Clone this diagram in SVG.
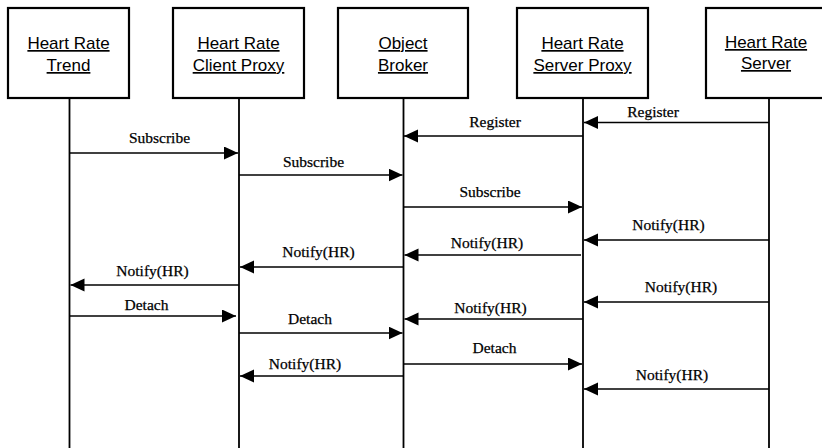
<svg xmlns="http://www.w3.org/2000/svg" width="822" height="448" viewBox="0 0 822 448">
<style>
.box{fill:#fff;stroke:#000;stroke-width:2.2}
.life{stroke:#000;stroke-width:1.8;fill:none}
.msg{stroke:#000;stroke-width:1.6;fill:none;marker-end:url(#ah)}
.hd{font-family:"Liberation Sans",Arial,sans-serif;font-size:17px;text-anchor:middle;fill:#000;text-decoration:underline}
.lb{font-family:"Liberation Serif","Times New Roman",serif;font-size:15.5px;text-anchor:middle;fill:#000;stroke:#000;stroke-width:0.25}
</style>
<defs>
<marker id="ah" markerUnits="userSpaceOnUse" markerWidth="16" markerHeight="14" refX="14" refY="6.5" orient="auto">
<path d="M0,0 L14,6.5 L0,13 Z" fill="#000"/>
</marker>
</defs>
<rect width="822" height="448" fill="#fff"/>
<g id="trend">
<rect class="box" x="8" y="8" width="121" height="90"/>
<text class="hd" x="68.5" y="49">Heart Rate</text>
<text class="hd" x="68.5" y="71">Trend</text>
<line class="life" x1="69.5" y1="98" x2="69.5" y2="448"/>
</g>
<g id="clientproxy">
<rect class="box" x="173" y="8" width="131" height="90"/>
<text class="hd" x="238.5" y="49">Heart Rate</text>
<text class="hd" x="238.5" y="71">Client Proxy</text>
<line class="life" x1="239" y1="98" x2="239" y2="448"/>
</g>
<g id="broker">
<rect class="box" x="338" y="8" width="130" height="90"/>
<text class="hd" x="403" y="49">Object</text>
<text class="hd" x="403" y="71">Broker</text>
<line class="life" x1="403.5" y1="98" x2="403.5" y2="448"/>
</g>
<g id="serverproxy">
<rect class="box" x="517" y="8" width="131" height="90"/>
<text class="hd" x="582.5" y="49">Heart Rate</text>
<text class="hd" x="582.5" y="71">Server Proxy</text>
<line class="life" x1="583" y1="98" x2="583" y2="448"/>
</g>
<g id="server">
<rect class="box" x="706" y="8" width="128" height="90"/>
<text class="hd" x="766" y="48">Heart Rate</text>
<text class="hd" x="766" y="69">Server</text>
<line class="life" x1="769" y1="98" x2="769" y2="448"/>
</g>
<g id="connectors">
<line class="msg" x1="769" y1="122.5" x2="584" y2="122.5"/>
<line class="msg" x1="583" y1="136" x2="404" y2="136"/>
<line class="msg" x1="69.5" y1="153" x2="238" y2="153"/>
<line class="msg" x1="239" y1="175" x2="402.5" y2="175"/>
<line class="msg" x1="403.5" y1="207" x2="582" y2="207"/>
<line class="msg" x1="769" y1="240" x2="584" y2="240"/>
<line class="msg" x1="581" y1="255" x2="404.5" y2="255"/>
<line class="msg" x1="403.5" y1="267" x2="240" y2="267"/>
<line class="msg" x1="239" y1="285" x2="70.5" y2="285"/>
<line class="msg" x1="769" y1="302" x2="584" y2="302"/>
<line class="msg" x1="69.5" y1="316" x2="236" y2="316"/>
<line class="msg" x1="583" y1="319" x2="404.5" y2="319"/>
<line class="msg" x1="239" y1="333" x2="402.5" y2="333"/>
<line class="msg" x1="403.5" y1="364" x2="582" y2="364"/>
<line class="msg" x1="403.5" y1="376" x2="240" y2="376"/>
<line class="msg" x1="769" y1="389" x2="584" y2="389"/>
</g>
<g id="labels">
<text class="lb" x="653" y="117">Register</text>
<text class="lb" x="495" y="127">Register</text>
<text class="lb" x="159.5" y="143">Subscribe</text>
<text class="lb" x="313.5" y="167">Subscribe</text>
<text class="lb" x="490" y="197">Subscribe</text>
<text class="lb" x="668.5" y="230">Notify(HR)</text>
<text class="lb" x="487" y="248">Notify(HR)</text>
<text class="lb" x="318.5" y="257">Notify(HR)</text>
<text class="lb" x="152.5" y="276">Notify(HR)</text>
<text class="lb" x="681" y="292">Notify(HR)</text>
<text class="lb" x="146.5" y="310">Detach</text>
<text class="lb" x="490.5" y="313">Notify(HR)</text>
<text class="lb" x="310" y="324">Detach</text>
<text class="lb" x="494.5" y="353">Detach</text>
<text class="lb" x="305" y="369">Notify(HR)</text>
<text class="lb" x="672" y="380">Notify(HR)</text>
</g>
</svg>
